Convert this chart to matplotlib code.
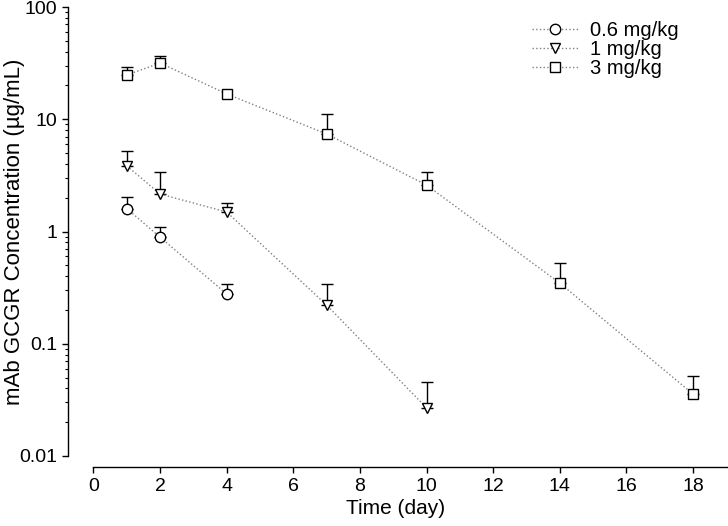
import numpy as np
import matplotlib
matplotlib.use('Agg')
import matplotlib.pyplot as plt
from matplotlib.ticker import FixedLocator, FixedFormatter, LogLocator, NullFormatter

plt.rcParams['font.family'] = ['Liberation Sans', 'DejaVu Sans']

# datos
t_06 = [1, 2, 4]
c_06 = [1.6, 0.89, 0.277]
sd_06 = [2.03, 1.10, 0.34]

t_1 = [1, 2, 4, 7, 10]
c_1 = [3.84, 2.16, 1.49, 0.221, 0.0268]
sd_1 = [5.2, 3.39, 1.80, 0.34, 0.0456]

t_3 = [1, 2, 4, 7, 10, 14, 18]
c_3 = [24.8, 31.7, 16.8, 7.39, 2.59, 0.347, 0.0356]
sd_3 = [29.2, 36.6, np.nan, 11.1, 3.39, 0.52, 0.0516]

series = [
    (t_06, c_06, sd_06, 'o', '0.6 mg/kg'),
    (t_1, c_1, sd_1, 'v', '1 mg/kg'),
    (t_3, c_3, sd_3, 's', '3 mg/kg'),
]

fig = plt.figure(figsize=(7.28, 5.26), dpi=100)
ax = fig.add_axes([93.5 / 728, 70 / 526, (728 - 93.5) / 728, 449 / 526])

for t, c, top, mk, lab in series:
    c = np.array(c)
    up = np.array(top) - c
    ok = ~np.isnan(up)
    ax.errorbar(np.array(t)[ok], c[ok], yerr=[np.zeros(ok.sum()), up[ok]], fmt='none',
                ecolor='black', elinewidth=1, capsize=4, capthick=1, zorder=2)
    ax.plot(t, c, ls=':', color='gray', lw=1, marker=mk, ms=7.5 if mk != 's' else 6.5,
            mfc='white', mec='black', mew=1, label=lab, zorder=3)

ax.set_yscale('log')
ax.set_ylim(0.01, 100)
ax.set_xlim(0, 19.05)
ax.set_xticks(range(0, 19, 2))

ax.yaxis.set_major_locator(FixedLocator([0.01, 0.1, 1, 10, 100]))
ax.yaxis.set_major_formatter(FixedFormatter(['0.01', '0.1', '1', '10', '100']))
ax.yaxis.set_minor_locator(LogLocator(base=10, subs=np.arange(2, 10)))
ax.yaxis.set_minor_formatter(NullFormatter())

ax.spines['top'].set_visible(False)
ax.spines['right'].set_visible(False)
ax.spines['left'].set_position(('outward', 18))
ax.spines['bottom'].set_position(('outward', 8))
for s in ['left', 'bottom']:
    ax.spines[s].set_linewidth(1)

ax.tick_params(axis='both', which='major', labelsize=14, length=4, width=1, direction='out')
ax.tick_params(axis='y', which='minor', length=2.5, width=0.8, direction='out')
ax.tick_params(axis='y', pad=4)

ax.set_xlabel('Time (day)', fontsize=15)
ax.set_ylabel('mAb GCGR Concentration (µg/mL)', fontsize=16)
ax.xaxis.set_label_coords(0.476, -0.095)
ax.yaxis.set_label_coords(-0.108, 0.5)

ax.legend(loc='upper left', bbox_to_anchor=(524 / 728, 1 - 13 / 526), bbox_transform=fig.transFigure,
          frameon=False, fontsize=14.5, handlelength=2.3, handletextpad=0.6, labelspacing=0.0,
          borderaxespad=0)

fig.savefig('out.png', dpi=100)
